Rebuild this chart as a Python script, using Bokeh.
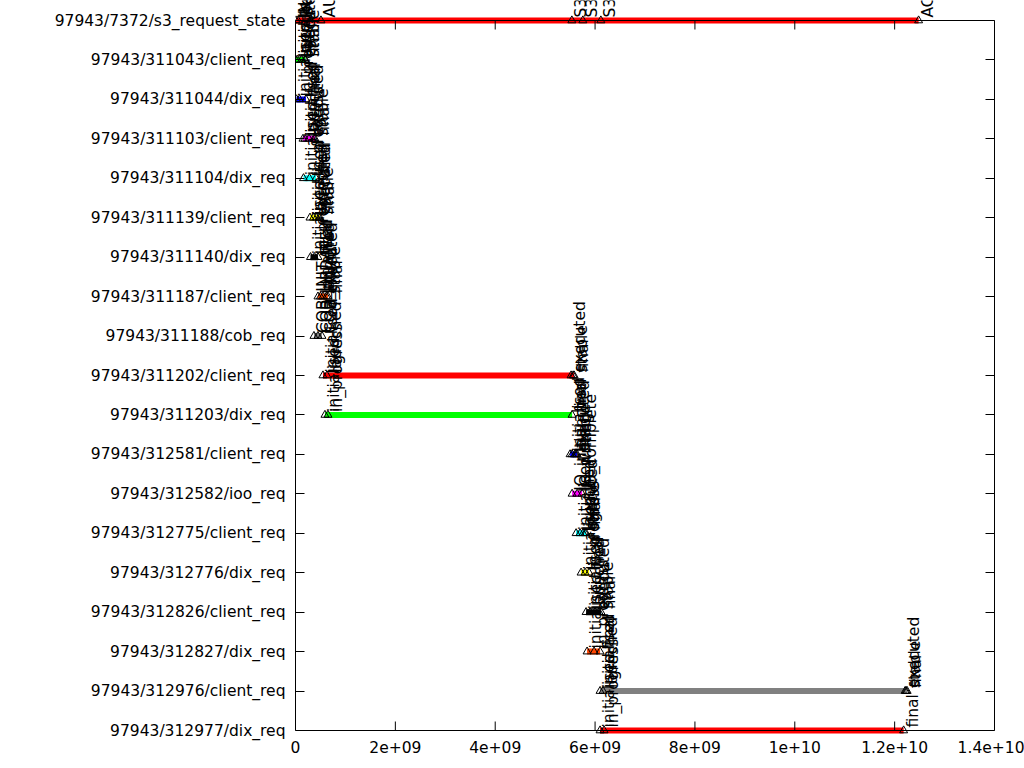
import math
from bokeh.plotting import figure
from bokeh.models import (Range1d, FixedTicker, LinearAxis, ColumnDataSource,
                          LabelSet, Span)
from bokeh.core.properties import value
from bokeh.embed import file_html
from bokeh.resources import INLINE

# ---------------- data ----------------
rows = [
    "97943/7372/s3_request_state",
    "97943/311043/client_req",
    "97943/311044/dix_req",
    "97943/311103/client_req",
    "97943/311104/dix_req",
    "97943/311139/client_req",
    "97943/311140/dix_req",
    "97943/311187/client_req",
    "97943/311188/cob_req",
    "97943/311202/client_req",
    "97943/311203/dix_req",
    "97943/312581/client_req",
    "97943/312582/ioo_req",
    "97943/312775/client_req",
    "97943/312776/dix_req",
    "97943/312826/client_req",
    "97943/312827/dix_req",
    "97943/312976/client_req",
    "97943/312977/dix_req",
]

client_states = ["initialised", "launched", "executed", "stable", "final"]
dix_states = ["initialised", "in_progress", "final"]
cob_states = ["COB_INIT", "COB_UPDATE", "COB_FINAL"]
ioo_states = ["IO_initial", "IO_writing", "IO_complete"]
s3_states = ["INITIALISED", "RUNNING", "AUTHENTICATED", "S3_OBJ_WRITE",
             "S3_OBJ_META", "S3_OBJ_DONE", "ACTION_COMPLETED"]

# event times per row, in units of 1e9 ns
row_times = [
    [0.01, 0.05, 0.51, 5.535, 5.755, 6.116, 12.48],
    [0.01, 0.04, 0.12, 0.19, 0.20],
    [0.02, 0.08, 0.21],
    [0.15, 0.19, 0.27, 0.37, 0.39],
    [0.16, 0.28, 0.41],
    [0.29, 0.36, 0.42, 0.47, 0.49],
    [0.30, 0.38, 0.45],
    [0.45, 0.50, 0.55, 0.62, 0.65],
    [0.37, 0.45, 0.53],
    [0.55, 0.63, 5.52, 5.56, 5.58],
    [0.59, 0.65, 5.54],
    [5.50, 5.54, 5.60, 5.62, 5.64],
    [5.54, 5.64, 5.74],
    [5.62, 5.70, 5.76, 5.80, 5.82],
    [5.72, 5.80, 5.88],
    [5.82, 5.90, 6.00, 6.08, 6.12],
    [5.84, 5.98, 6.10],
    [6.10, 6.16, 12.21, 12.23, 12.25],
    [6.10, 6.18, 12.18],
]
row_labels = [
    s3_states, client_states, dix_states, client_states, dix_states,
    client_states, dix_states, client_states, cob_states, client_states,
    dix_states, client_states, ioo_states, client_states, dix_states,
    client_states, dix_states, client_states, dix_states,
]

x_ticks = [0, 2e9, 4e9, 6e9, 8e9, 1e10, 1.2e10, 1.4e10]
x_tick_labels = ["0", "2e+09", "4e+09", "6e+09", "8e+09", "1e+10", "1.2e+10", "1.4e+10"]

palette = ["#ff0000", "#00ff00", "#0000ff", "#ff00ff", "#00ffff",
           "#ffff00", "#000000", "#ff4500", "#808080"]

# ---------------- build sources ----------------
bar_x0, bar_x1, bar_y, bar_c = [], [], [], []
ev_x, ev_y, ev_t = [], [], []
for i, (ts, labs) in enumerate(zip(row_times, row_labels)):
    xs = [t * 1e9 for t in ts]
    bar_x0.append(min(xs))
    bar_x1.append(max(xs))
    bar_y.append(i)
    bar_c.append(palette[i % len(palette)])
    for x, l in zip(xs, labs):
        ev_x.append(x)
        ev_y.append(i)
        ev_t.append(l)

bars = ColumnDataSource(dict(x0=bar_x0, x1=bar_x1, y=bar_y, c=bar_c))
evs = ColumnDataSource(dict(x=ev_x, y=ev_y, t=ev_t))

FONT = "DejaVu Sans"
FS = "15.5px"

n = len(rows)
last = n - 1
# rows span 710 px (y=20..730); the drawing area reaches 20 px above row 0
# and 5 px below the last row so that marks there are not clipped
row_px = 710.0 / last
top_pad = 20.0 / row_px
bot_pad = 5.0 / row_px
tick_len = 9.0 / row_px

p = figure(width=1024, height=768, output_backend="svg", toolbar_location=None,
           x_range=Range1d(0, 1.4e10), y_range=Range1d(last + bot_pad, -top_pad),
           min_border_left=295, min_border_right=30, min_border_top=0,
           min_border_bottom=33, x_axis_location="below", y_axis_location="left")
p.background_fill_color = "white"
p.border_fill_color = "white"
p.outline_line_color = None
p.xgrid.visible = False
p.ygrid.visible = False

p.segment(x0="x0", y0="y", x1="x1", y1="y", line_color="c", line_width=6,
          source=bars)
p.scatter(x="x", y="y", marker="triangle", size=8, fill_color=None,
          line_color="black", line_width=1, source=evs)

# top and bottom frame lines with inward ticks at the x tick positions
p.add_layout(Span(location=0, dimension="width", line_color="black", line_width=1))
p.add_layout(Span(location=last, dimension="width", line_color="black", line_width=1))
k = len(x_ticks)
p.segment(x0=x_ticks, y0=[0] * k, x1=x_ticks, y1=[tick_len] * k,
          line_color="black", line_width=1)
p.segment(x0=x_ticks, y0=[last] * k, x1=x_ticks, y1=[last - tick_len] * k,
          line_color="black", line_width=1)

labels = LabelSet(x="x", y="y", text="t", source=evs, angle=math.pi / 2,
                  text_align="left", text_baseline="top", y_offset=3,
                  text_font=value(FONT), text_font_size=value(FS),
                  text_color="black")
p.add_layout(labels)

yt = FixedTicker(ticks=list(range(n)))
ymap = {i: r for i, r in enumerate(rows)}
xt = FixedTicker(ticks=x_ticks)
xmap = {t: l for t, l in zip(x_ticks, x_tick_labels)}


def style(ax, show):
    ax.axis_line_color = "black"
    ax.major_tick_line_color = "black"
    ax.major_tick_in = 9
    ax.major_tick_out = 0
    ax.minor_tick_line_color = None
    ax.major_label_text_font = FONT
    ax.major_label_text_font_size = FS
    ax.major_label_text_color = "black"
    ax.major_label_standoff = 10
    if not show:
        ax.major_label_text_alpha = 0
        ax.major_label_text_font_size = "1px"
        ax.major_label_standoff = 0


xa = p.xaxis[0]
xa.ticker = xt
xa.major_label_overrides = xmap
style(xa, True)
xa.axis_line_color = None
xa.major_tick_line_color = None
xa.major_label_standoff = 5

ya = p.yaxis[0]
ya.ticker = yt
ya.major_label_overrides = ymap
ya.bounds = (0, last)
style(ya, True)

right = LinearAxis(ticker=FixedTicker(ticks=list(range(n))), bounds=(0, last))
style(right, False)
p.add_layout(right, "right")

open("out.html", "w").write(file_html(p, INLINE))
